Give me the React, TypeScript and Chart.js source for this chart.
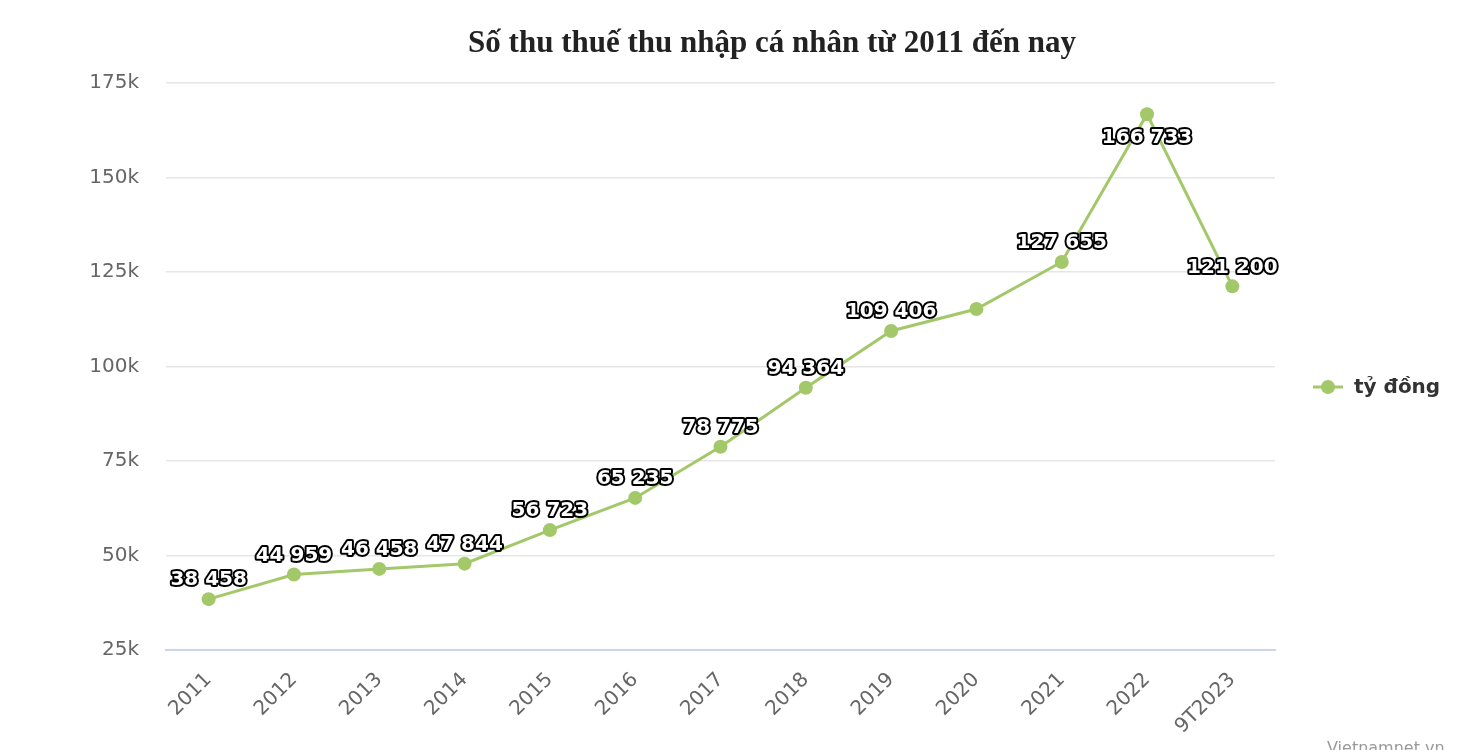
import React, { useEffect, useRef } from "react";
import { Chart, registerables } from "chart.js";

Chart.register(...registerables);

const TITLE = "Số thu thuế thu nhập cá nhân từ 2011 đến nay";
const SERIES_NAME = "tỷ đồng";
const CATEGORIES = ["2011", "2012", "2013", "2014", "2015", "2016", "2017", "2018", "2019", "2020", "2021", "2022", "9T2023"];
const VALUES = [38458, 44959, 46458, 47844, 56723, 65235, 78775, 94364, 109406, 115200, 127655, 166733, 121200];
const SHOW_LABEL = [true, true, true, true, true, true, true, true, true, false, true, true, true];
const LABEL_BELOW = [false, false, false, false, false, false, false, false, false, false, false, true, false];
const Y_MIN = 25000;
const Y_MAX = 175000;
const Y_STEP = 25000;
const CREDIT = "Vietnamnet.vn";

const LINE_COLOR = "#a3c86a";
const AXIS_FONT = "'DejaVu Sans', sans-serif";

function fmt(v: number) {
  return String(v).replace(/\B(?=(\d{3})+(?!\d))/g, " ");
}

const decorPlugin = {
  id: "decor",
  afterDatasetsDraw(chart: any) {
    const ctx = chart.ctx;
    const meta = chart.getDatasetMeta(0);
    ctx.save();
    ctx.font = `bold 20px ${AXIS_FONT}`;
    ctx.textAlign = "center";
    ctx.textBaseline = "middle";
    ctx.lineJoin = "round";
    meta.data.forEach((pt: any, i: number) => {
      if (!SHOW_LABEL[i]) return;
      const t = fmt(VALUES[i]);
      const y = LABEL_BELOW[i] ? pt.y + 24 : pt.y - 19;
      ctx.lineWidth = 4;
      ctx.strokeStyle = "#000";
      ctx.strokeText(t, pt.x, y);
      ctx.fillStyle = "#fff";
      ctx.fillText(t, pt.x, y);
    });
    ctx.restore();
  },
  afterDraw(chart: any) {
    const ctx = chart.ctx;
    ctx.save();
    ctx.font = "bold 31px 'Liberation Serif', serif";
    ctx.fillStyle = "#222";
    ctx.textAlign = "center";
    ctx.textBaseline = "middle";
    ctx.fillText(TITLE, 772, 44);
    const ly = 387;
    ctx.strokeStyle = LINE_COLOR;
    ctx.lineWidth = 3;
    ctx.beginPath();
    ctx.moveTo(1313, ly);
    ctx.lineTo(1343, ly);
    ctx.stroke();
    ctx.fillStyle = LINE_COLOR;
    ctx.beginPath();
    ctx.arc(1328, ly, 7, 0, Math.PI * 2);
    ctx.fill();
    ctx.fillStyle = "#333";
    ctx.font = `bold 20px ${AXIS_FONT}`;
    ctx.textAlign = "left";
    ctx.fillText(SERIES_NAME, 1354, ly + 1);
    ctx.fillStyle = "#999";
    ctx.font = `16px ${AXIS_FONT}`;
    ctx.textBaseline = "top";
    ctx.fillText(CREDIT, 1327, 741);
    ctx.restore();
  },
};

export default function App() {
  const ref = useRef<HTMLCanvasElement | null>(null);
  useEffect(() => {
    document.body.style.margin = "0";
    const chart = new Chart(ref.current as HTMLCanvasElement, {
      type: "line",
      data: {
        labels: CATEGORIES,
        datasets: [
          {
            label: SERIES_NAME,
            data: VALUES,
            borderColor: LINE_COLOR,
            backgroundColor: LINE_COLOR,
            borderWidth: 3,
            pointRadius: 7,
            pointHoverRadius: 7,
            pointBackgroundColor: LINE_COLOR,
            pointBorderWidth: 0,
            tension: 0,
          },
        ],
      },
      options: {
        responsive: false,
        animation: false,
        layout: { padding: { top: 83, right: 189, left: 0, bottom: 0 } },
        plugins: {
          legend: { display: false },
          title: { display: false },
          tooltip: { enabled: false },
        },
        scales: {
          x: {
            offset: true,
            grid: { display: false, drawTicks: false },
            border: { display: true, color: "#ccd6eb", width: 2 },
            ticks: {
              color: "#666",
              font: { family: AXIS_FONT, size: 20 },
              maxRotation: 45,
              minRotation: 45,
              padding: 18,
              autoSkip: false,
            },
            afterFit: (scale: any) => {
              scale.height = 100;
            },
          },
          y: {
            min: Y_MIN,
            max: Y_MAX,
            grid: { color: "#e6e6e6", lineWidth: 1.5, drawTicks: false },
            border: { display: false },
            ticks: {
              stepSize: Y_STEP,
              color: "#666",
              font: { family: AXIS_FONT, size: 20 },
              padding: 27,
              callback: (v: any) => `${Number(v) / 1000}k`,
            },
            afterFit: (scale: any) => {
              scale.width = 166;
            },
          },
        },
      },
      plugins: [decorPlugin],
    });
    return () => chart.destroy();
  }, []);
  return (
    <div style={{ width: 1464, height: 750, background: "#fff" }}>
      <canvas ref={ref} width={1464} height={750} />
    </div>
  );
}
